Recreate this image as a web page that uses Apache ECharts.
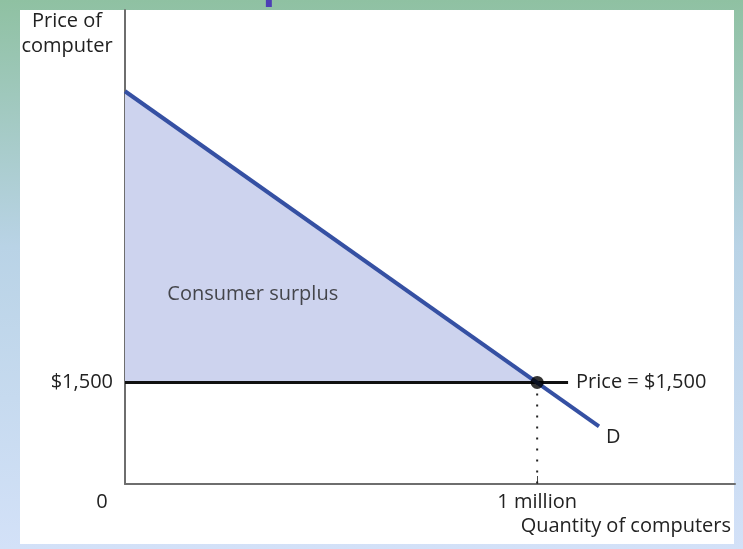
<!DOCTYPE html>
<html>
<head>
<meta charset="utf-8">
<script src="https://cdn.jsdelivr.net/npm/echarts@6/dist/echarts.min.js"></script>
<style>
	html, body { margin: 0; padding: 0; }
	#chart { width: 743px; height: 549px; }
</style>
</head>
<body>
<div id="chart"></div>
<script>
	// quantities in millions of computers, prices in dollars
	var demandQty = [0, 1.15]
	var demandPrice = [5800, 850]
	var marketPrice = 1500
	var marketQty = 1
	var priceLineEnd = 1.075
	var xTickValues = [0, 1]
	var xTickLabels = ['0', '1 million']
	var yTickValues = [1500]
	var yTickLabels = ['$1,500']
	var surplusLabelAt = [0.31, 2800]

	var font = '"Open Sans", "Noto Sans", sans-serif'
	var fs = 20
	var chart = echarts.init(document.getElementById('chart'))

	var option = {
		backgroundColor: {
			type: 'linear', x: 0, y: 0, x2: 0, y2: 1,
			colorStops: [
				{ offset: 0, color: '#8fc1a2' },
				{ offset: 0.45, color: '#b9d3e6' },
				{ offset: 1, color: '#d3e1f8' }
			]
		},
		animation: false,
		graphic: [
			{ type: 'rect', z: -10, shape: { x: 20, y: 10, width: 714, height: 534 }, style: { fill: '#ffffff' } },
			{ type: 'text', left: -18, top: -33, style: { text: 'Consumer Surplus', font: 'bold 40px ' + font, fill: '#4d3fb5' } },
			{ type: 'text', x: 67, y: 9, style: { text: 'Price of\ncomputer', font: fs + 'px ' + font, fill: '#222', align: 'center', lineHeight: 25 } },
			{ type: 'text', x: 731, y: 516, style: { text: 'Quantity of computers', font: fs + 'px ' + font, fill: '#222', align: 'right' } }
		],
		grid: { left: 125, top: 10, right: 8, bottom: 65 },
		xAxis: {
			type: 'value', min: 0, max: 1.48,
			splitLine: { show: false },
			axisLine: { lineStyle: { color: '#6e6e6e', width: 2 } },
			axisTick: { show: true, customValues: [marketQty], inside: true, length: 8, lineStyle: { color: '#444', width: 1 } },
			axisLabel: {
				customValues: xTickValues,
				margin: 8,
				color: '#222', fontSize: fs, fontFamily: font,
				formatter: function (v) {
					var i = xTickValues.indexOf(v)
					return v === 0 ? '{z|' + xTickLabels[i] + '}' : xTickLabels[i]
				},
				rich: { z: { fontSize: fs, fontFamily: font, color: '#222', padding: [0, 46, 0, 0] } }
			}
		},
		yAxis: {
			type: 'value', min: 0, max: 7000,
			splitLine: { show: false },
			axisLine: { show: true, lineStyle: { color: '#6e6e6e', width: 2 } },
			axisTick: { show: false },
			axisLabel: {
				customValues: yTickValues,
				margin: 12,
				color: '#222', fontSize: fs, fontFamily: font,
				formatter: function (v) { return yTickLabels[yTickValues.indexOf(v)] }
			}
		},
		series: [
			{
				// consumer surplus area between demand and price
				type: 'line', z: 1, symbol: 'none',
				data: [[demandQty[0], demandPrice[0]], [marketQty, marketPrice]],
				lineStyle: { width: 0 },
				areaStyle: { color: '#cdd3ee', opacity: 1, origin: marketPrice }
			},
			{
				type: 'line', z: 3, symbol: 'none',
				data: [[0, marketPrice], [priceLineEnd, marketPrice]],
				lineStyle: { color: '#111', width: 3 },
				endLabel: { show: true, formatter: 'Price = $1,500', distance: 8, color: '#222', fontSize: fs, fontFamily: font }
			},
			{
				type: 'line', z: 2, symbol: 'none',
				data: [[marketQty, marketPrice], [marketQty, 0]],
				lineStyle: { color: '#222', width: 2, type: [2, 9] }
			},
			{
				type: 'line', z: 4, symbol: 'none',
				data: demandQty.map(function (q, i) { return [q, demandPrice[i]] }),
				lineStyle: { color: '#3550a3', width: 4 },
				endLabel: { show: true, formatter: 'D', offset: [4, 11], distance: 3, color: '#222', fontSize: fs, fontFamily: font }
			},
			{
				type: 'scatter', z: 5, symbolSize: 13,
				itemStyle: { color: '#000' },
				data: [[marketQty, marketPrice]]
			},
			{
				type: 'scatter', z: 5, symbolSize: 0, silent: true,
				data: [surplusLabelAt],
				label: { show: true, position: 'inside', formatter: 'Consumer surplus', color: '#222', fontSize: fs, fontFamily: font }
			}
		]
	}
	chart.setOption(option)
</script>
</body>
</html>
